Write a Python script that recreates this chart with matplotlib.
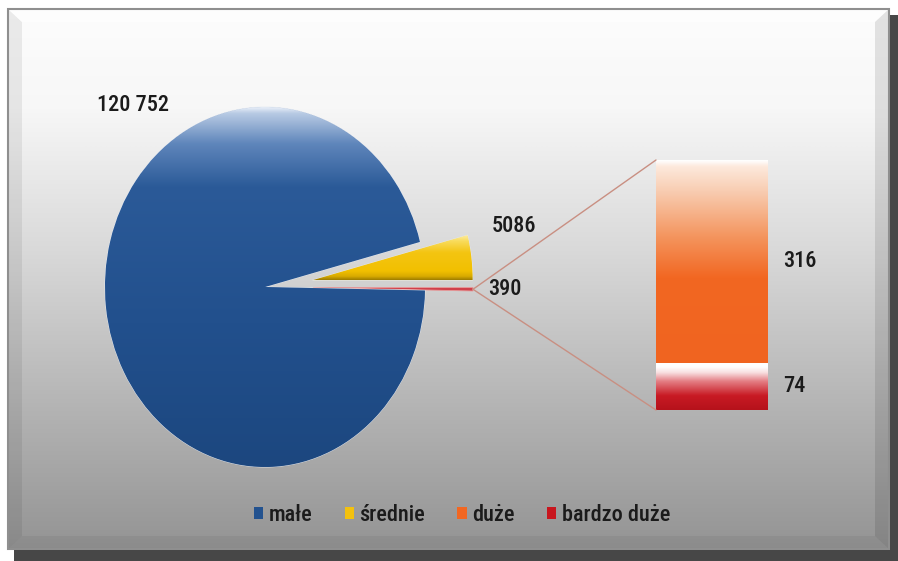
import numpy as np
import matplotlib
matplotlib.use('Agg')
import matplotlib.pyplot as plt
from matplotlib.patches import Patch, Rectangle, Polygon, ConnectionPatch
from matplotlib.colors import LinearSegmentedColormap

# ---- data ----
categories = ['małe', 'średnie', 'duże', 'bardzo duże']
values = [120752, 5086, 316, 74]
value_labels = ['120 752', '5086', '316', '74']
colors = ['#23528f', '#f3c10f', '#f26722', '#c8161e']

other_value = values[2] + values[3]          # 390
other_label = '390'

FONT = ['Roboto Condensed', 'Archivo Narrow', 'Barlow Semi Condensed', 'DejaVu Sans']
plt.rcParams['font.family'] = FONT
TXT = '#1b1b1b'
FW = 'medium'

W, H = 898, 561
fig = plt.figure(figsize=(W / 100, H / 100), dpi=100)

# ---- background with frame ----
bg = fig.add_axes([0, 0, 1, 1])
bg.set_xlim(0, W)
bg.set_ylim(H, 0)
bg.axis('off')
bg.add_patch(Rectangle((0, 0), W, H, color='white', zorder=0))
grad = np.interp(np.linspace(0, 1, 256), [0, 0.18, 0.45, 0.75, 1.0],
                 [0.99, 0.97, 0.85, 0.70, 0.58])
img = grad[:, None] * np.ones((1, 2))
bg.imshow(np.dstack([img, img, img]), extent=(8, 889, 549, 9), aspect='auto',
          interpolation='bilinear', zorder=1)
# bevels
bg.add_patch(Polygon([(8, 9), (22, 22), (22, 536), (8, 549)], closed=True,
                     color='#000000', alpha=0.07, lw=0, zorder=2))
bg.add_patch(Polygon([(8, 9), (889, 9), (875, 22), (22, 22)], closed=True,
                     color='#ffffff', alpha=0.6, lw=0, zorder=2))
bg.add_patch(Polygon([(889, 9), (889, 549), (875, 536), (875, 22)], closed=True,
                     color='#000000', alpha=0.10, lw=0, zorder=2))
bg.add_patch(Polygon([(8, 549), (889, 549), (875, 536), (22, 536)], closed=True,
                     color='#000000', alpha=0.05, lw=0, zorder=2))
bg.add_patch(Rectangle((8, 9), 881, 540, fill=False, ec='#8f8f8f', lw=1.5, zorder=3))
# dark shadow bands
bg.add_patch(Rectangle((14, 550), W - 14, 11, color='#474747', lw=0, zorder=3))
bg.add_patch(Rectangle((890, 15), 8, H - 15, color='#474747', lw=0, zorder=3))

# ---- pie ----
px_cx, px_cy, rx, ry = 265, 287, 160, 180
span = 1.4
ax = fig.add_axes([(px_cx - span * rx) / W, (H - px_cy - span * ry) / H,
                   2 * span * rx / W, 2 * span * ry / H])
ax.patch.set_alpha(0)
pie_vals = [other_value, values[1], values[0]]
pie_cols = ['#d0404a', colors[1], colors[0]]
total = sum(pie_vals)
start = -360 * other_value / total
wedges, _ = ax.pie(pie_vals, colors=pie_cols, startangle=start, counterclock=True,
                   explode=[0.30, 0.30, 0.0], radius=1.0,
                   wedgeprops=dict(lw=0.6, ec='#e6ebf3'))
wedges[0].set_edgecolor('#e79a9a')
ax.set_aspect('auto')
ax.axis('off')


def grad_fill(axis, patch, stops, cols):
    cmap = LinearSegmentedColormap.from_list('g', list(zip(stops, cols)))
    g = np.linspace(1, 0, 256)[:, None] * np.ones((1, 2))
    ext = patch.get_path().get_extents(patch.get_patch_transform())
    im = axis.imshow(g, cmap=cmap, vmin=0, vmax=1,
                     extent=(ext.x0, ext.x1, ext.y0, ext.y1),
                     aspect='auto', interpolation='bilinear',
                     zorder=patch.get_zorder() + 0.1)
    im.set_clip_path(patch)


grad_fill(ax, wedges[2], [0, 0.4, 0.78, 0.9, 0.985, 1.0],
          ['#1c477f', '#22508d', '#2b5a98', '#5f86bb', '#b9cbe4', '#e6edf7'])
grad_fill(ax, wedges[1], [0, 0.08, 0.2, 0.6, 0.85, 1.0],
          ['#9c7c00', '#d9ab00', '#f2c000', '#f4c512', '#f9dc5c', '#fdeeb0'])
ax.set_xlim(-span, span)
ax.set_ylim(-span, span)

# connector tip: outer point of the exploded "other" slice
w_other = wedges[0]
theta = np.deg2rad((w_other.theta1 + w_other.theta2) / 2)
ox, oy = w_other.center
tip = (ox + np.cos(theta), oy + np.sin(theta))

# ---- bar of the "other" slice ----
bx0, bx1, by0, by1 = 656, 768, 160, 410
bax = fig.add_axes([bx0 / W, (H - by1) / H, (bx1 - bx0) / W, (by1 - by0) / H])
bax.patch.set_alpha(0)
bars_bottom = bax.bar([0], [values[3]], width=1.0, color=colors[3], lw=0)
bars_top = bax.bar([0], [values[2]], bottom=[values[3]], width=1.0, color=colors[2], lw=0)
bax.axis('off')

grad_fill(bax, bars_top[0], [0, 0.42, 0.62, 0.85, 0.97, 1.0],
          ['#f06420', '#f26722', '#f4945d', '#f8cdb2', '#fde9dc', '#ffffff'])
grad_fill(bax, bars_bottom[0], [0, 0.3, 0.6, 0.78, 0.9, 1.0],
          ['#b5121b', '#c81a24', '#e47e84', '#f8dfe0', '#ffffff', '#ffffff'])
bax.set_xlim(-0.5, 0.5)
bax.set_ylim(0, other_value)

for yb in (1, 0):
    con = ConnectionPatch(xyA=tip, coordsA=ax.transData, xyB=(0, yb),
                          coordsB=bax.transAxes, color='#c98f82', lw=1.0, zorder=5)
    fig.add_artist(con)

# bar value labels
for val, ymid in ((value_labels[2], values[3] + values[2] / 2),
                  (value_labels[3], values[3] / 2)):
    bax.annotate(val, xy=(0.5, ymid), xytext=(11, 0),
                 textcoords='offset points', ha='left', va='center', fontsize=16,
                 color=TXT, weight=FW, annotation_clip=False)

# pie value labels
fig.text(97 / W, 1 - 105 / H, value_labels[0], ha='left', va='center', fontsize=16,
         color=TXT, weight=FW)
fig.text(492 / W, 1 - 226 / H, value_labels[1], ha='left', va='center', fontsize=16,
         color=TXT, weight=FW)
fig.text(488 / W, 1 - 289 / H, other_label, ha='left', va='center', fontsize=16,
         color=TXT, weight=FW)

# ---- legend ----
handles = [Patch(facecolor=c, edgecolor='none') for c in colors]
fig.legend(handles, categories, loc='center', bbox_to_anchor=(462 / W, 1 - 515 / H),
           ncol=4, frameon=False, prop=dict(size=16, weight=FW), handlelength=0.42,
           handleheight=0.42, handletextpad=0.25, columnspacing=1.45, labelcolor=TXT)

fig.savefig('out.png', dpi=100)
